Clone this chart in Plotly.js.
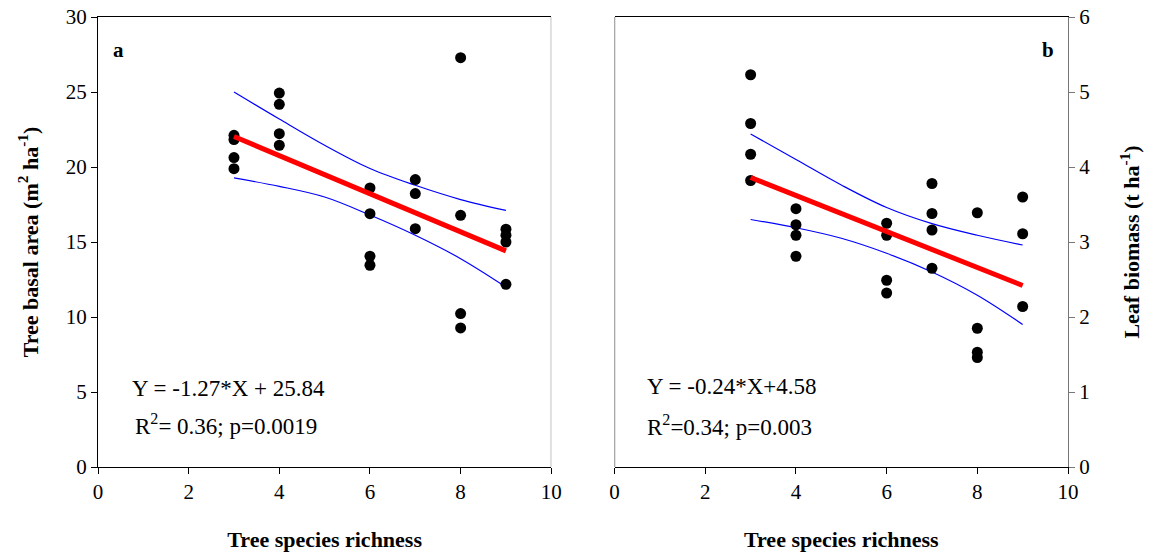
<!DOCTYPE html>
<html>
<head>
<meta charset="utf-8">
<script src="https://cdn.plot.ly/plotly-3.0.1.min.js"></script>
<style>html,body{margin:0;padding:0;background:#fff;}#chart{width:1154px;height:556px;}</style>
</head>
<body>
<div id="chart"></div>
<script>
// Panel a: tree basal area vs tree species richness
const richnessA = [3,3,3,3, 4,4,4,4, 6,6,6,6, 7,7,7, 8,8,8,8, 9,9,9,9];
const basalArea = [22.11,21.83,20.63,19.89, 24.93,24.18,22.22,21.45, 18.6,16.89,14.05,13.45, 19.16,18.23,15.89, 27.29,16.78,10.23,9.27, 15.85,15.45,15.0,12.18];
const fitXA = [3, 9];
const fitYA = [22.03, 14.41];
const bandX = [3,4,5,6,7,8,9];
const upperA = [25.0, 23.2, 21.45, 19.9, 18.78, 17.83, 17.11];
const lowerA = [19.27, 18.71, 18.0, 16.8, 15.45, 13.89, 12.0];

// Panel b: leaf biomass vs tree species richness
const richnessB = [3,3,3,3, 4,4,4,4, 6,6,6,6, 7,7,7,7, 8,8,8,8, 9,9,9];
const leafBiomass = [5.23,4.58,4.17,3.82, 3.445,3.23,3.09,2.81, 3.25,3.09,2.49,2.32, 3.78,3.38,3.16,2.65, 3.39,1.85,1.53,1.46, 3.60,3.11,2.14];
const fitXB = [3, 9];
const fitYB = [3.86, 2.42];
const upperB = [4.44, 4.10, 3.76, 3.46, 3.245, 3.09, 2.96];
const lowerB = [3.30, 3.19, 3.05, 2.85, 2.60, 2.29, 1.90];

const xTicks = [0,2,4,6,8,10];
const yTicksA = [0,5,10,15,20,25,30];
const yTicksB = [0,1,2,3,4,5,6];

const FONT = 'Liberation Serif';
const blue = '#0000ff', red = '#ff0000';

const traces = [
  {x: bandX, y: upperA, xaxis:'x', yaxis:'y', mode:'lines', line:{color:blue, width:1.2, shape:'spline'}, hoverinfo:'skip'},
  {x: bandX, y: lowerA, xaxis:'x', yaxis:'y', mode:'lines', line:{color:blue, width:1.2, shape:'spline'}, hoverinfo:'skip'},
  {x: richnessA, y: basalArea, xaxis:'x', yaxis:'y', mode:'markers', marker:{color:'black', size:11}},
  {x: fitXA, y: fitYA, xaxis:'x', yaxis:'y', mode:'lines', line:{color:red, width:5}},
  {x: bandX, y: upperB, xaxis:'x2', yaxis:'y2', mode:'lines', line:{color:blue, width:1.2, shape:'spline'}, hoverinfo:'skip'},
  {x: bandX, y: lowerB, xaxis:'x2', yaxis:'y2', mode:'lines', line:{color:blue, width:1.2, shape:'spline'}, hoverinfo:'skip'},
  {x: richnessB, y: leafBiomass, xaxis:'x2', yaxis:'y2', mode:'markers', marker:{color:'black', size:11}},
  {x: fitXB, y: fitYB, xaxis:'x2', yaxis:'y2', mode:'lines', line:{color:red, width:5}}
];

const axisCommon = {
  showgrid:false, zeroline:false, showline:true, linecolor:'black', linewidth:1,
  ticks:'outside', ticklen:6, tickcolor:'black', tickfont:{family:FONT, size:21, color:'black'}
};
const titleFont = {family:FONT, size:22, color:'black', weight:'bold'};

const layout = {
  width:1154, height:556,
  margin:{l:98, r:86, t:17, b:89},
  paper_bgcolor:'white', plot_bgcolor:'white',
  showlegend:false,
  font:{family:FONT, color:'black'},
  xaxis: Object.assign({}, axisCommon, {domain:[0,0.4673], range:[0,10], tickvals:xTicks, anchor:'y', mirror:true,
    title:{text:'<b>Tree species richness</b>', font:titleFont, standoff:28}}),
  yaxis: Object.assign({}, axisCommon, {domain:[0,1], range:[0,30], tickvals:yTicksA, anchor:'x',
    title:{text:'<b>Tree basal area (m<sup>2</sup> ha<sup>-1</sup>)</b>', font:titleFont, standoff:21}}),
  xaxis2: Object.assign({}, axisCommon, {domain:[0.5326,1], range:[0,10], tickvals:xTicks, anchor:'y2', mirror:true,
    title:{text:'<b>Tree species richness</b>', font:titleFont, standoff:28}}),
  yaxis2: Object.assign({}, axisCommon, {domain:[0,1], range:[0,6], tickvals:yTicksB, anchor:'x2', side:'right',
    linecolor:'#777', tickcolor:'#777',
    title:{text:'<b>Leaf biomass (t ha<sup>-1</sup>)</b>', font:titleFont, standoff:34}}),
  shapes:[
    {type:'line', xref:'x', yref:'paper', x0:10, x1:10, y0:0, y1:1, line:{color:'#777', width:1}},
    {type:'line', xref:'x2', yref:'paper', x0:0, x1:0, y0:0, y1:1, line:{color:'black', width:1}}
  ],
  annotations:[
    {xref:'x', yref:'y', x:0.45, y:27.8, text:'<b>a</b>', showarrow:false, font:{family:FONT, size:21, color:'black'}},
    {xref:'x2', yref:'y2', x:9.56, y:5.56, text:'<b>b</b>', showarrow:false, font:{family:FONT, size:21, color:'black'}},
    {xref:'x', yref:'y', x:0.70, y:5.25, xanchor:'left', text:'Y = -1.27*X + 25.84', showarrow:false, font:{family:FONT, size:23, color:'black'}},
    {xref:'x', yref:'y', x:0.77, y:2.85, xanchor:'left', text:'R<sup>2</sup>= 0.36; p=0.0019', showarrow:false, font:{family:FONT, size:23, color:'black'}},
    {xref:'x2', yref:'y2', x:0.68, y:1.067, xanchor:'left', text:'Y = -0.24*X+4.58', showarrow:false, font:{family:FONT, size:23, color:'black'}},
    {xref:'x2', yref:'y2', x:0.68, y:0.556, xanchor:'left', text:'R<sup>2</sup>=0.34; p=0.003', showarrow:false, font:{family:FONT, size:23, color:'black'}}
  ]
};

Plotly.newPlot('chart', traces, layout, {displayModeBar:false, staticPlot:true});
</script>
</body>
</html>
